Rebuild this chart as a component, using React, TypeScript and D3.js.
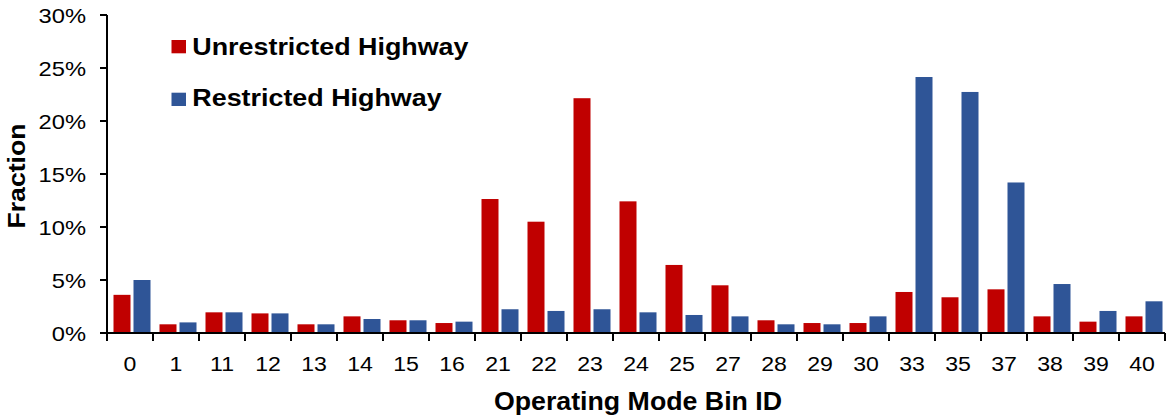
import React from "react";
import * as d3 from "d3";

const categories = ["0","1","11","12","13","14","15","16","21","22","23","24","25","27","28","29","30","33","35","37","38","39","40"];
const unrestricted = [3.6,0.82,1.95,1.85,0.82,1.57,1.2,0.94,12.64,10.5,22.15,12.42,6.42,4.5,1.2,0.94,0.94,3.87,3.37,4.12,1.57,1.07,1.57];
const restricted = [5.0,1.0,1.95,1.85,0.82,1.32,1.2,1.07,2.24,2.08,2.24,1.95,1.7,1.57,0.82,0.82,1.57,24.15,22.74,14.2,4.62,2.08,2.99];
const yTicks = [0,5,10,15,20,25,30];
const seriesNames = ["Unrestricted Highway","Restricted Highway"];
const colors = ["#C00000","#2F5597"];

const W = 1167, H = 417;
const left = 107, right = 1165, top = 15, bottom = 333;
const font = "Arial, 'Liberation Sans', sans-serif";

export default function App() {
  const x = d3.scaleBand<string>().domain(categories).range([left, right]).paddingInner(0).paddingOuter(0);
  const x1 = d3.scaleBand<string>().domain(["u","r"]).range([6.5, 43.5]).paddingInner(0.15).paddingOuter(0);
  const y = d3.scaleLinear().domain([0, 30]).range([bottom, top]);
  const step = x.step();
  const boundaries = d3.range(categories.length + 1).map(i => left + i * step);
  const series = [unrestricted, restricted];
  const keys = ["u","r"];

  return (
    <svg width={W} height={H} style={{position:"absolute", left:0, top:0, background:"#fff"}} fontFamily={font}>
      {series.map((vals, si) => vals.map((v, i) => (
        <rect key={si+"-"+i} x={(x(categories[i]) as number) + (x1(keys[si]) as number)} y={y(v)}
          width={x1.bandwidth()} height={y(0) - y(v)} fill={colors[si]} />
      )))}
      {/* y axis */}
      <line x1={left} x2={left} y1={top} y2={bottom} stroke="#000" strokeWidth={2} />
      {yTicks.map(t => (
        <g key={t}>
          <line x1={left - 7} x2={left} y1={y(t)} y2={y(t)} stroke="#000" strokeWidth={2} />
          <text transform={`translate(86,${y(t) + 8}) scale(1.13,1)`} textAnchor="end" fontSize={21} fill="#000">{t + "%"}</text>
        </g>
      ))}
      {/* x axis */}
      <line x1={left} x2={right} y1={bottom} y2={bottom} stroke="#000" strokeWidth={2} />
      {boundaries.map((b, i) => (
        <line key={i} x1={b} x2={b} y1={bottom} y2={bottom + 8} stroke="#000" strokeWidth={2} />
      ))}
      {categories.map(c => (
        <text key={c} transform={`translate(${(x(c) as number) + step / 2},371) scale(1.1,1)`} textAnchor="middle" fontSize={21} fill="#000">{c}</text>
      ))}
      <text transform="translate(638,410) scale(1.07,1)" textAnchor="middle" fontSize={25} fontWeight="bold" fill="#000">Operating Mode Bin ID</text>
      <text transform="translate(24.7,176) rotate(-90) scale(1.11,1)" textAnchor="middle" fontSize={24} fontWeight="bold" fill="#000">Fraction</text>
      {/* legend */}
      {seriesNames.map((n, i) => (
        <g key={n}>
          <rect x={171.5} y={40 + i * 52.7} width={14.5} height={13.3} fill={colors[i]} />
          <text transform={`translate(192.3,${55 + i * 51}) scale(1.12,1)`} fontSize={24} fontWeight="bold" fill="#000">{n}</text>
        </g>
      ))}
    </svg>
  );
}
